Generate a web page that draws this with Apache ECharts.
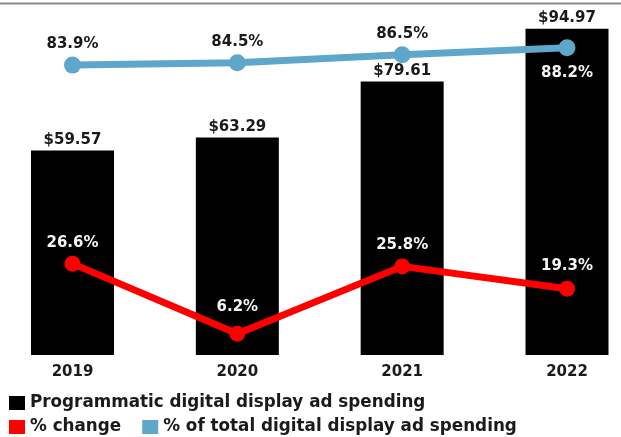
<!DOCTYPE html>
<html>
<head>
<meta charset="utf-8">
<script src="https://cdn.jsdelivr.net/npm/echarts@6/dist/echarts.min.js"></script>
<style>
html,body{margin:0;padding:0;background:#fff;}
#chart{width:621px;height:437px;}
</style>
</head>
<body>
<div id="chart"></div>
<script>
var years = ['2019', '2020', '2021', '2022'];
var spending = [59.57, 63.29, 79.61, 94.97];
var pctChange = [26.6, 6.2, 25.8, 19.3];
var pctTotal = [83.9, 84.5, 86.5, 88.2];

var FONT = 'DejaVu Sans';
var DARK = '#1a1a1a';
var BLUE = '#5fa7ca';
var RED = '#ff0000';

var redLabelDist = [5, 11, 6, 7];

var chart = echarts.init(document.getElementById('chart'));
chart.setOption({
  animation: false,
  backgroundColor: '#fff',
  graphic: [{
    type: 'line',
    shape: {x1: 0, y1: 3.5, x2: 621, y2: 3.5},
    style: {stroke: '#8a8a8a', lineWidth: 2}
  }],
  legend: [{
    data: ['Programmatic digital display ad spending'],
    left: 4, top: 389.5,
    icon: 'rect', itemWidth: 16, itemHeight: 14,
    selectedMode: false,
    textStyle: {fontFamily: FONT, fontWeight: 'bold', fontSize: 16.8, color: DARK}
  }, {
    data: ['% change', '% of total digital display ad spending'],
    left: 4, top: 413.5,
    icon: 'rect', itemWidth: 16, itemHeight: 14, itemGap: 21,
    selectedMode: false,
    textStyle: {fontFamily: FONT, fontWeight: 'bold', fontSize: 16.8, color: DARK}
  }],
  grid: {left: 72.5, right: 54, top: 11.5, bottom: 82, containLabel: false},
  xAxis: {
    type: 'category',
    data: years,
    boundaryGap: false,
    axisLine: {show: false},
    axisTick: {show: false},
    splitLine: {show: false},
    axisLabel: {
      margin: 10,
      fontFamily: FONT, fontWeight: 'bold', fontSize: 15, color: DARK
    }
  },
  yAxis: [{
    type: 'value', min: 0, max: 100, show: false
  }, {
    type: 'value', min: 12, max: 97.2, show: false
  }],
  series: [{
    name: 'Programmatic digital display ad spending',
    type: 'bar',
    data: spending,
    barWidth: 83,
    clip: false,
    itemStyle: {color: '#000'},
    label: {
      show: true, position: 'top', distance: 3,
      formatter: function (p) { return '$' + p.value.toFixed(2); },
      fontFamily: FONT, fontWeight: 'bold', fontSize: 15, color: DARK
    },
    z: 1
  }, {
    name: '% change',
    type: 'line',
    yAxisIndex: 0,
    data: pctChange.map(function (v, i) {
      return {value: v, label: {distance: redLabelDist[i]}};
    }),
    symbol: 'circle',
    symbolSize: 16,
    clip: false,
    lineStyle: {color: RED, width: 7},
    itemStyle: {color: RED},
    label: {
      show: true, position: 'top',
      formatter: function (p) { return p.value.toFixed(1) + '%'; },
      fontFamily: FONT, fontWeight: 'bold', fontSize: 15, color: '#f4f4f4'
    },
    z: 3
  }, {
    name: '% of total digital display ad spending',
    type: 'line',
    yAxisIndex: 1,
    data: pctTotal.map(function (v, i) {
      return i === pctTotal.length - 1
        ? {value: v, label: {position: 'bottom', distance: 9, color: '#f4f4f4'}}
        : {value: v};
    }),
    symbol: 'circle',
    symbolSize: 17,
    clip: false,
    lineStyle: {color: BLUE, width: 7},
    itemStyle: {color: BLUE},
    label: {
      show: true, position: 'top', distance: 5,
      formatter: function (p) { return p.value.toFixed(1) + '%'; },
      fontFamily: FONT, fontWeight: 'bold', fontSize: 15, color: DARK
    },
    z: 4
  }]
});
</script>
</body>
</html>
